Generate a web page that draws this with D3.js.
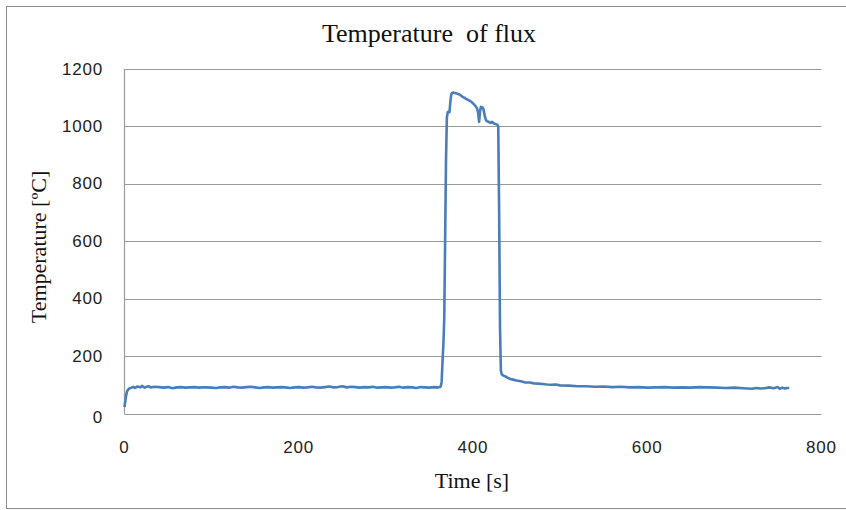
<!DOCTYPE html>
<html>
<head>
<meta charset="utf-8">
<script src="https://cdn.jsdelivr.net/npm/d3@7"></script>
<style>
  html, body { margin: 0; padding: 0; background: #fff; }
  svg { display: block; }
  .tick-label { font-family: "Liberation Sans", Arial, sans-serif; font-size: 17px; fill: #222; letter-spacing: 0.8px; }
  .serif { font-family: "Liberation Serif", "Times New Roman", serif; fill: #111; white-space: pre; }
</style>
</head>
<body>
<svg id="chart" width="846" height="510"></svg>
<script>
// Flux temperature record: time [s] and temperature [°C]
const timeSec = [
  0, 1, 2, 3, 5, 8, 10, 12, 15, 18, 20, 23, 25, 28, 30, 35, 40, 45, 50, 55,
  60, 65, 70, 75, 80, 85, 90, 95, 100, 105, 110, 115, 120, 125, 130, 135, 140, 145, 150, 155,
  160, 165, 170, 175, 180, 185, 190, 195, 200, 205, 210, 215, 220, 225, 230, 235, 240, 245, 250, 255,
  260, 265, 270, 275, 280, 285, 290, 295, 300, 305, 310, 315, 320, 325, 330, 335, 340, 345, 350, 355,
  360, 362, 363, 364, 365, 366, 367, 368, 369, 370, 371, 372, 373, 374, 375, 376, 377, 378, 380, 382,
  384, 386, 388, 390, 392, 394, 396, 398, 400, 402, 403, 404, 405, 406, 407, 408, 409, 410, 411, 412,
  413, 414, 415, 416, 418, 420, 422, 424, 426, 428, 429, 430, 431, 432, 433, 435, 438, 440, 443, 446,
  450, 455, 460, 465, 470, 475, 480, 485, 490, 495, 500, 510, 520, 530, 540, 550, 560, 570, 580, 590,
  600, 610, 620, 630, 640, 650, 660, 670, 680, 690, 700, 710, 720, 725, 730, 735, 740, 745, 750, 752,
  755, 758, 760, 763
];
const tempC = [
  22, 45, 65, 78, 86, 90, 93, 89, 94, 91, 96, 90, 93, 95, 91, 93, 92, 90, 92, 88,
  91, 92, 90, 91, 92, 90, 91, 91, 90, 89, 91, 92, 90, 93, 91, 90, 92, 93, 91, 89,
  91, 92, 90, 91, 92, 91, 89, 91, 92, 90, 91, 93, 91, 90, 92, 94, 91, 92, 95, 91,
  93, 92, 90, 92, 91, 93, 90, 91, 92, 90, 91, 93, 90, 92, 91, 89, 92, 91, 90, 92,
  91, 92, 95, 110, 180, 240, 330, 600, 880, 1030, 1050, 1052, 1050, 1085, 1112, 1116, 1118, 1117, 1116, 1114,
  1112, 1108, 1103, 1100, 1096, 1093, 1090, 1086, 1080, 1074, 1070, 1066, 1060, 1045, 1016, 1050, 1068, 1064, 1066, 1060,
  1045, 1030, 1022, 1018, 1016, 1012, 1016, 1010, 1008, 1006, 1000, 700, 300, 150, 136, 132, 128, 124, 120, 118,
  115, 112, 108, 108, 105, 104, 103, 101, 100, 101, 98, 97, 95, 95, 93, 94, 92, 93, 91, 92,
  90, 91, 92, 90, 91, 90, 92, 91, 90, 89, 90, 88, 86, 89, 87, 88, 91, 88, 92, 86,
  90, 87, 89, 89
];
const xTicks = [0, 200, 400, 600, 800];
const yTicks = [0, 200, 400, 600, 800, 1000, 1200];

const svg = d3.select("#chart");
const plot = { left: 124.5, right: 821.5, top: 69, bottom: 413.5 };

// Outer chart frame
svg.append("rect")
  .attr("x", 6.5).attr("y", 6.5)
  .attr("width", 850).attr("height", 502)
  .attr("fill", "#fff").attr("stroke", "#8c8c8c").attr("stroke-width", 1);

const x = d3.scaleLinear().domain([0, 800]).range([plot.left, plot.right]);
const y = d3.scaleLinear().domain([0, 1200]).range([plot.bottom, plot.top]);

// Horizontal gridlines
svg.append("g")
  .selectAll("line")
  .data(yTicks)
  .join("line")
  .attr("x1", plot.left).attr("x2", plot.right)
  .attr("y1", d => Math.round(y(d)) + 0.5).attr("y2", d => Math.round(y(d)) + 0.5)
  .attr("stroke", "#9a9a9a").attr("stroke-width", 1.2);

// Vertical axis line
svg.append("line")
  .attr("x1", plot.left).attr("x2", plot.left)
  .attr("y1", plot.top).attr("y2", plot.bottom + 0.5)
  .attr("stroke", "#9a9a9a").attr("stroke-width", 1.2);

// Y tick labels
svg.append("g")
  .selectAll("text")
  .data(yTicks)
  .join("text")
  .attr("class", "tick-label")
  .attr("x", 103)
  .attr("y", d => y(d) + (d === 0 ? 4 : 0))
  .attr("text-anchor", "end")
  .attr("dominant-baseline", "central")
  .text(d => d);

// X tick labels
svg.append("g")
  .selectAll("text")
  .data(xTicks)
  .join("text")
  .attr("class", "tick-label")
  .attr("x", d => x(d))
  .attr("y", 447)
  .attr("text-anchor", "middle")
  .attr("dominant-baseline", "central")
  .text(d => d);

// Temperature trace
const pts = timeSec.map((t, i) => [t, tempC[i]]);
const line = d3.line().x(d => x(d[0])).y(d => y(d[1]));
svg.append("path")
  .datum(pts)
  .attr("d", line)
  .attr("fill", "none")
  .attr("stroke", "#4a7ebb")
  .attr("stroke-width", 2.6)
  .attr("stroke-linejoin", "round");

// Titles
svg.append("text")
  .attr("class", "serif")
  .attr("x", 429).attr("y", 42)
  .attr("text-anchor", "middle")
  .attr("font-size", 26)
  .text("Temperature  of flux");

svg.append("text")
  .attr("class", "serif")
  .attr("x", 472).attr("y", 488)
  .attr("text-anchor", "middle")
  .attr("font-size", 22)
  .text("Time [s]");

svg.append("text")
  .attr("class", "serif")
  .attr("transform", "translate(46,247) rotate(-90)")
  .attr("text-anchor", "middle")
  .attr("font-size", 22)
  .text("Temperature [\u00BAC]");
</script>
</body>
</html>
